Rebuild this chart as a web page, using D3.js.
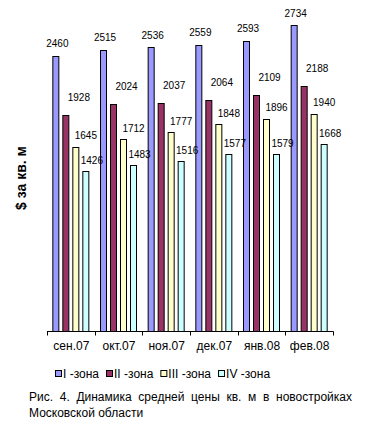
<!DOCTYPE html>
<html><head><meta charset="utf-8">
<script src="https://cdn.jsdelivr.net/npm/d3@7"></script>
<style>body{margin:0;background:#fff}svg{display:block;font-family:"Liberation Sans",Arial,sans-serif}</style>
</head><body>
<script>
const months = ["сен.07","окт.07","ноя.07","дек.07","янв.08","фев.08"];
const seriesNames = ["I -зона","II -зона","III -зона","IV -зона"];
const zone1 = [2460,2515,2536,2559,2593,2734];
const zone2 = [1928,2024,2037,2064,2109,2188];
const zone3 = [1645,1712,1777,1848,1896,1940];
const zone4 = [1426,1483,1516,1577,1579,1668];
const seriesValues = [zone1, zone2, zone3, zone4];
const colors = ["#9999FF","#993366","#FFFFCC","#CCFFFF"];
const labelDx = [1.5, 13, 10, 6];
const labelDy = [-12, -18, -11, -11];
const yTitle = "$ за кв. м";
const captionLine1 = "Рис. 4. Динамика средней цены кв. м в новостройках";
const captionLine2 = "Московской области";

const W = 365, H = 430;
const svg = d3.select("body").append("svg").attr("width", W).attr("height", H);

const x = d3.scaleBand().domain(months).range([47, 333]).padding(0);
const groupW = 37;
const xs = d3.scaleBand().domain(d3.range(4))
  .range([(x.bandwidth()-groupW)/2, (x.bandwidth()+groupW)/2]).paddingInner(0.3).paddingOuter(0);
const y = d3.scaleLinear().domain([0, 2734]).range([331, 25]);

// bars
seriesValues.forEach((vals, si) => {
  svg.append("g").selectAll("rect").data(vals).join("rect")
    .attr("x", (d,i) => x(months[i]) + xs(si) + 0.5)
    .attr("y", d => Math.round(y(d)) + 0.5)
    .attr("width", xs.bandwidth() - 1)
    .attr("height", d => 331 - Math.round(y(d)))
    .attr("fill", colors[si]).attr("stroke", "#000").attr("stroke-width", 1);
  svg.append("g").selectAll("text").data(vals).join("text")
    .attr("x", (d,i) => x(months[i]) + xs(si) + xs.bandwidth()/2 + labelDx[si])
    .attr("y", d => y(d) + labelDy[si] + 3.6)
    .attr("text-anchor", "middle").attr("font-size", 10).attr("fill", "#000")
    .text(d => d);
});

// x axis
const gx = svg.append("g").attr("transform", "translate(0,331.5)");
gx.append("line").attr("x1", 47).attr("x2", 333.5).attr("stroke", "#000");
gx.selectAll("line.tk").data(d3.range(months.length + 1)).join("line").attr("class","tk")
  .attr("x1", i => Math.round(47 + i * x.step()) + 0.5)
  .attr("x2", i => Math.round(47 + i * x.step()) + 0.5)
  .attr("y1", 0).attr("y2", 4).attr("stroke", "#000");
svg.append("g").selectAll("text").data(months).join("text")
  .attr("x", d => x(d) + x.bandwidth()/2 + 0.5)
  .attr("y", 349.5)
  .attr("text-anchor", "middle").attr("font-size", 12).text(d => d);

// y title
svg.append("text").attr("transform", "translate(25.5,178) rotate(-90)")
  .attr("text-anchor", "middle").attr("font-size", 14).attr("font-weight", "bold").text(yTitle);

// legend
const lg = svg.append("g");
let lx = 55;
seriesNames.forEach((n, i) => {
  lg.append("rect").attr("x", lx + 0.5).attr("y", 370.5).attr("width", 6).attr("height", 6)
    .attr("fill", colors[i]).attr("stroke", "#000");
  const t = lg.append("text").attr("x", lx + 8).attr("y", 378).attr("font-size", 12).text(n);
  lx = lx + 8 + t.node().getComputedTextLength() + 7;
});

// caption
const c1 = svg.append("text").attr("x", 29).attr("y", 401).attr("font-size", 12).text(captionLine1);
const len = c1.node().getComputedTextLength();
const gaps = captionLine1.split(" ").length - 1;
c1.attr("word-spacing", (352 - 29 - len) / gaps);
svg.append("text").attr("x", 29).attr("y", 416.5).attr("font-size", 12).text(captionLine2);
</script>
</body></html>
